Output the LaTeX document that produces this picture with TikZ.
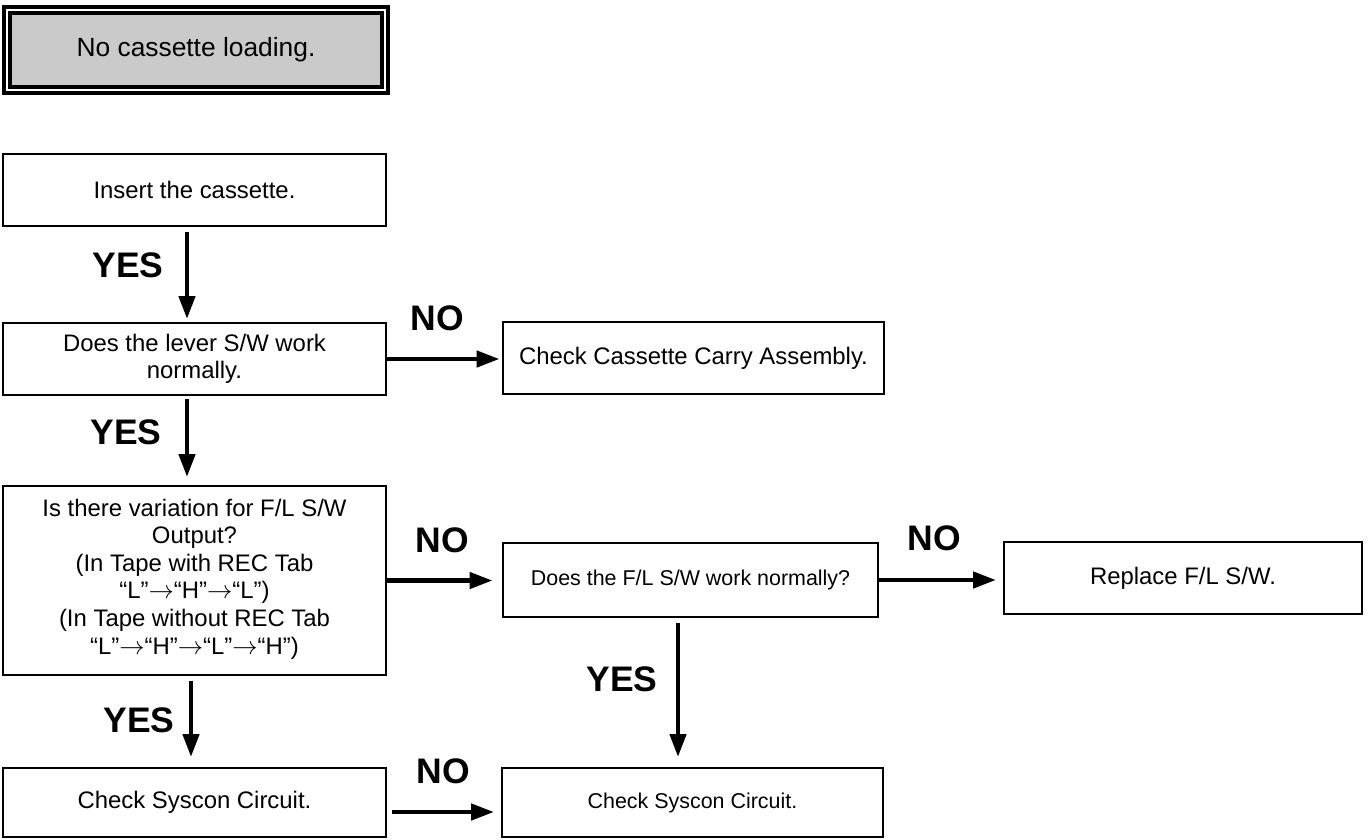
\documentclass[tikz,border=0pt]{standalone}
\usepackage{fontspec}
\setmainfont{Liberation Sans}
\usetikzlibrary{arrows.meta, positioning}
\definecolor{boxgray}{RGB}{202,202,202}
\tikzset{
	stepbox/.style={draw, line width=0.04cm, align=center, inner sep=0pt, font=\fontsize{13.6}{15.2}\selectfont},
	smalltext/.style={font=\fontsize{12.2}{14.6}\selectfont},
	looseline/.style={font=\fontsize{13.6}{15.7}\selectfont},
	titlebox/.style={draw, fill=boxgray, double=white, double distance=0.04cm, line width=0.08cm, font=\fontsize{15}{17}\selectfont},
	flow/.style={-{Triangle[length=0.46cm,width=0.32cm]}, line width=0.09cm},
	answer/.style={font=\bfseries\fontsize{20.2}{22}\selectfont, inner sep=0pt}
}

\begin{document}
\begin{tikzpicture}[x=0.02cm,y=-0.02cm]
	\useasboundingbox (0,0) rectangle (1369,839);

	\node[titlebox, minimum width=7.57cm, minimum height=1.59cm] (title) at (196,50) {No cassette loading.};

	\node[stepbox, minimum width=7.66cm, minimum height=1.46cm] (insert) at (194.5,190) {Insert the cassette.};
	\node[stepbox, minimum width=7.66cm, minimum height=1.44cm] (lever) at (194.5,359) {Does the lever S/W work\\normally.};
	\node[stepbox, minimum width=7.64cm, minimum height=1.44cm] (carry) at (693.5,358) {Check Cassette Carry Assembly.};
	\node[stepbox, looseline, minimum width=7.66cm, minimum height=3.78cm, text depth=0.16cm] (output) at (194.5,580.5) {Is there variation for F/L S/W\\Output?\\(In Tape with REC Tab\\“L”$\to$“H”$\to$“L”)\\(In Tape without REC Tab\\“L”$\to$“H”$\to$“L”$\to$“H”)};
	\node[stepbox, smalltext, minimum width=7.52cm, minimum height=1.48cm] (flsw) at (690.5,580) {Does the F/L S/W work normally?};
	\node[stepbox, minimum width=7.16cm, minimum height=1.44cm] (replace) at (1183,578) {Replace F/L S/W.};
	\node[stepbox, minimum width=7.66cm, minimum height=1.38cm] (syscon) at (194.5,802.5) {Check Syscon Circuit.};
	\node[stepbox, smalltext, minimum width=7.62cm, minimum height=1.38cm] (sysconb) at (692.5,802.5) {Check Syscon Circuit.};

	\draw[flow, shorten <=0.1cm, shorten >=0.06cm] ([xshift=-0.15cm]insert.south) -- ([xshift=-0.15cm]lever.north);
	\draw[flow, shorten >=0.04cm] (lever.east) -- (lever.east -| carry.west);
	\draw[flow, shorten <=0.06cm, shorten >=0.16cm] ([xshift=-0.15cm]lever.south) -- ([xshift=-0.15cm]output.north);
	\draw[flow, shorten >=0.18cm] (output.east) -- (output.east -| flsw.west);
	\draw[flow, shorten >=0.14cm] (flsw.east) -- (flsw.east -| replace.west);
	\draw[flow, shorten <=0.1cm, shorten >=0.2cm] ([xshift=-0.25cm]flsw.south) -- ([xshift=-0.25cm]flsw.south |- sysconb.north);
	\draw[flow, shorten <=0.1cm, shorten >=0.2cm] ([xshift=-0.07cm]output.south) -- ([xshift=-0.07cm]syscon.north);
	\draw[flow, shorten <=0.1cm, shorten >=0.14cm] ([yshift=-0.19cm]syscon.east) -- ([yshift=-0.19cm]sysconb.west);

	\node[answer] (yesa) at (128,265) {YES};
	\node[answer] (noa) at (437,318) {NO};
	\node[answer] (yesb) at (126,432) {YES};
	\node[answer] (nob) at (442,540) {NO};
	\node[answer] (noc) at (934,538) {NO};
	\node[answer] (yesc) at (622,679) {YES};
	\node[answer] (yesd) at (139,720) {YES};
	\node[answer] (nod) at (443,771) {NO};
\end{tikzpicture}
\end{document}
